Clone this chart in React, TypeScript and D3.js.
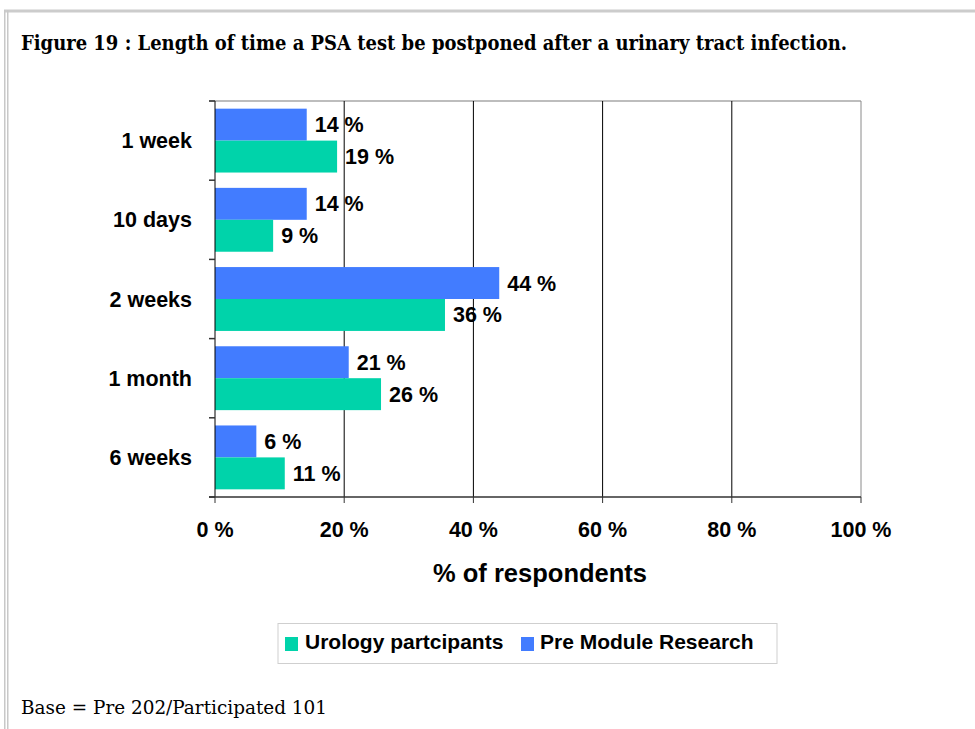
import React from "react";
import * as d3 from "d3";

const categories = ["1 week", "10 days", "2 weeks", "1 month", "6 weeks"];
const preModule = [14.2, 14.2, 44.0, 20.7, 6.4];
const urology = [18.9, 9.0, 35.6, 25.7, 10.8];
const xTicks = [0, 20, 40, 60, 80, 100];
const seriesNames = ["Urology partcipants", "Pre Module Research"];
const titleText = "Figure 19 : Length of time a PSA test be postponed after a urinary tract infection.";
const footerText = "Base = Pre 202/Participated 101";
const axisTitle = "% of respondents";

const BLUE = "#427CFF";
const GREEN = "#00D3AA";
const SANS = "'Liberation Sans', Arial, sans-serif";
const SERIF = "'DejaVu Serif', serif";

export default function App() {
  const W = 975;
  const H = 729;
  const left = 215;
  const right = 861;
  const top = 101;
  const bottom = 497;

  const x = d3.scaleLinear().domain([0, 100]).range([left, right]);
  const y = d3.scaleBand<string>().domain(categories).range([top, bottom]).padding(0);
  const inner = d3
    .scaleBand<string>()
    .domain(["pre", "uro"])
    .range([0, y.bandwidth()])
    .paddingInner(0)
    .paddingOuter(0.24);

  const fmt = (v: number) => `${Math.round(v)} %`;

  const bars: { key: string; cat: string; v: number; color: string }[] = [];
  categories.forEach((c, i) => {
    bars.push({ key: "pre", cat: c, v: preModule[i], color: BLUE });
    bars.push({ key: "uro", cat: c, v: urology[i], color: GREEN });
  });

  const boundaries = d3.range(categories.length + 1).map((i) => top + i * y.step());

  return (
    <svg
      width={W}
      height={H}
      style={{ position: "absolute", left: 0, top: 0, background: "#fff" }}
    >
      <rect x={0} y={0} width={W} height={H} fill="#fff" />
      {/* page borders */}
      <rect x={4} y={9.5} width={W - 4} height={3} fill="#cccccc" />
      <rect x={4} y={10} width={1.5} height={H - 10} fill="#c8c8c8" />
      <rect x={7} y={10} width={1.5} height={H - 10} fill="#c8c8c8" />

      {/* title */}
      <text
        x={21}
        y={50}
        fontFamily={SERIF}
        fontWeight="bold"
        fontSize={19.5}
        textLength={826}
        lengthAdjust="spacingAndGlyphs"
        fill="#000"
      >
        {titleText}
      </text>

      {/* plot frame: top & right gray */}
      <line x1={209} x2={right} y1={top} y2={top} stroke="#bdbdbd" strokeWidth={2} />
      <line x1={right} x2={right} y1={top} y2={bottom} stroke="#8a8a8a" strokeWidth={1} />

      {/* gridlines */}
      {xTicks.slice(1, -1).map((t) => (
        <line key={t} x1={x(t)} x2={x(t)} y1={top} y2={bottom} stroke="#000" strokeWidth={1} />
      ))}

      {/* bars */}
      {bars.map((b) => (
        <rect
          key={b.key + b.cat}
          x={x(0)}
          y={(y(b.cat) as number) + (inner(b.key) as number)}
          width={x(b.v) - x(0)}
          height={inner.bandwidth()}
          fill={b.color}
        />
      ))}

      {/* left axis */}
      <line x1={x(0)} x2={x(0)} y1={top} y2={bottom} stroke="#000" strokeWidth={1} />
      {boundaries.map((b, i) => (
        <line key={i} x1={209} x2={x(0)} y1={b} y2={b} stroke="#333" strokeWidth={1.5} />
      ))}

      {/* bottom axis */}
      <line x1={209} x2={right} y1={bottom} y2={bottom} stroke="#333" strokeWidth={1.5} />
      {xTicks.map((t) => (
        <line key={t} x1={x(t)} x2={x(t)} y1={bottom} y2={bottom + 6} stroke="#333" strokeWidth={1} />
      ))}

      {/* bar labels */}
      {bars.map((b) => (
        <text
          key={"l" + b.key + b.cat}
          x={x(b.v) + 8}
          y={(y(b.cat) as number) + (inner(b.key) as number) + inner.bandwidth() / 2 + 7.5}
          fontFamily={SANS}
          fontWeight="bold"
          fontSize={21.5}
          fill="#000"
        >
          {fmt(b.v)}
        </text>
      ))}

      {/* category labels */}
      {categories.map((c) => (
        <text
          key={c}
          x={192}
          y={(y(c) as number) + y.bandwidth() / 2 + 7.5}
          textAnchor="end"
          fontFamily={SANS}
          fontWeight="bold"
          fontSize={21.5}
          fill="#000"
        >
          {c}
        </text>
      ))}

      {/* x tick labels */}
      {xTicks.map((t) => (
        <text
          key={"t" + t}
          x={x(t)}
          y={537}
          textAnchor="middle"
          fontFamily={SANS}
          fontWeight="bold"
          fontSize={21.5}
          fill="#000"
        >
          {`${t} %`}
        </text>
      ))}

      {/* axis title */}
      <text
        x={(left + right) / 2 + 2}
        y={582}
        textAnchor="middle"
        fontFamily={SANS}
        fontWeight="bold"
        fontSize={25.5}
        fill="#000"
      >
        {axisTitle}
      </text>

      {/* legend */}
      <rect x={278} y={623.5} width={499} height={40} fill="#fff" stroke="#cfcfcf" strokeWidth={1} />
      <rect x={285} y={637} width={13} height={14} fill={GREEN} />
      <text x={305} y={649} fontFamily={SANS} fontWeight="bold" fontSize={21} fill="#000">
        {seriesNames[0]}
      </text>
      <rect x={521} y={637} width={13} height={14} fill={BLUE} />
      <text x={540} y={649} fontFamily={SANS} fontWeight="bold" fontSize={21} fill="#000">
        {seriesNames[1]}
      </text>

      {/* footer */}
      <text
        x={21}
        y={714}
        fontFamily={SERIF}
        fontSize={18.5}
        textLength={306}
        lengthAdjust="spacingAndGlyphs"
        fill="#000"
      >
        {footerText}
      </text>
    </svg>
  );
}
